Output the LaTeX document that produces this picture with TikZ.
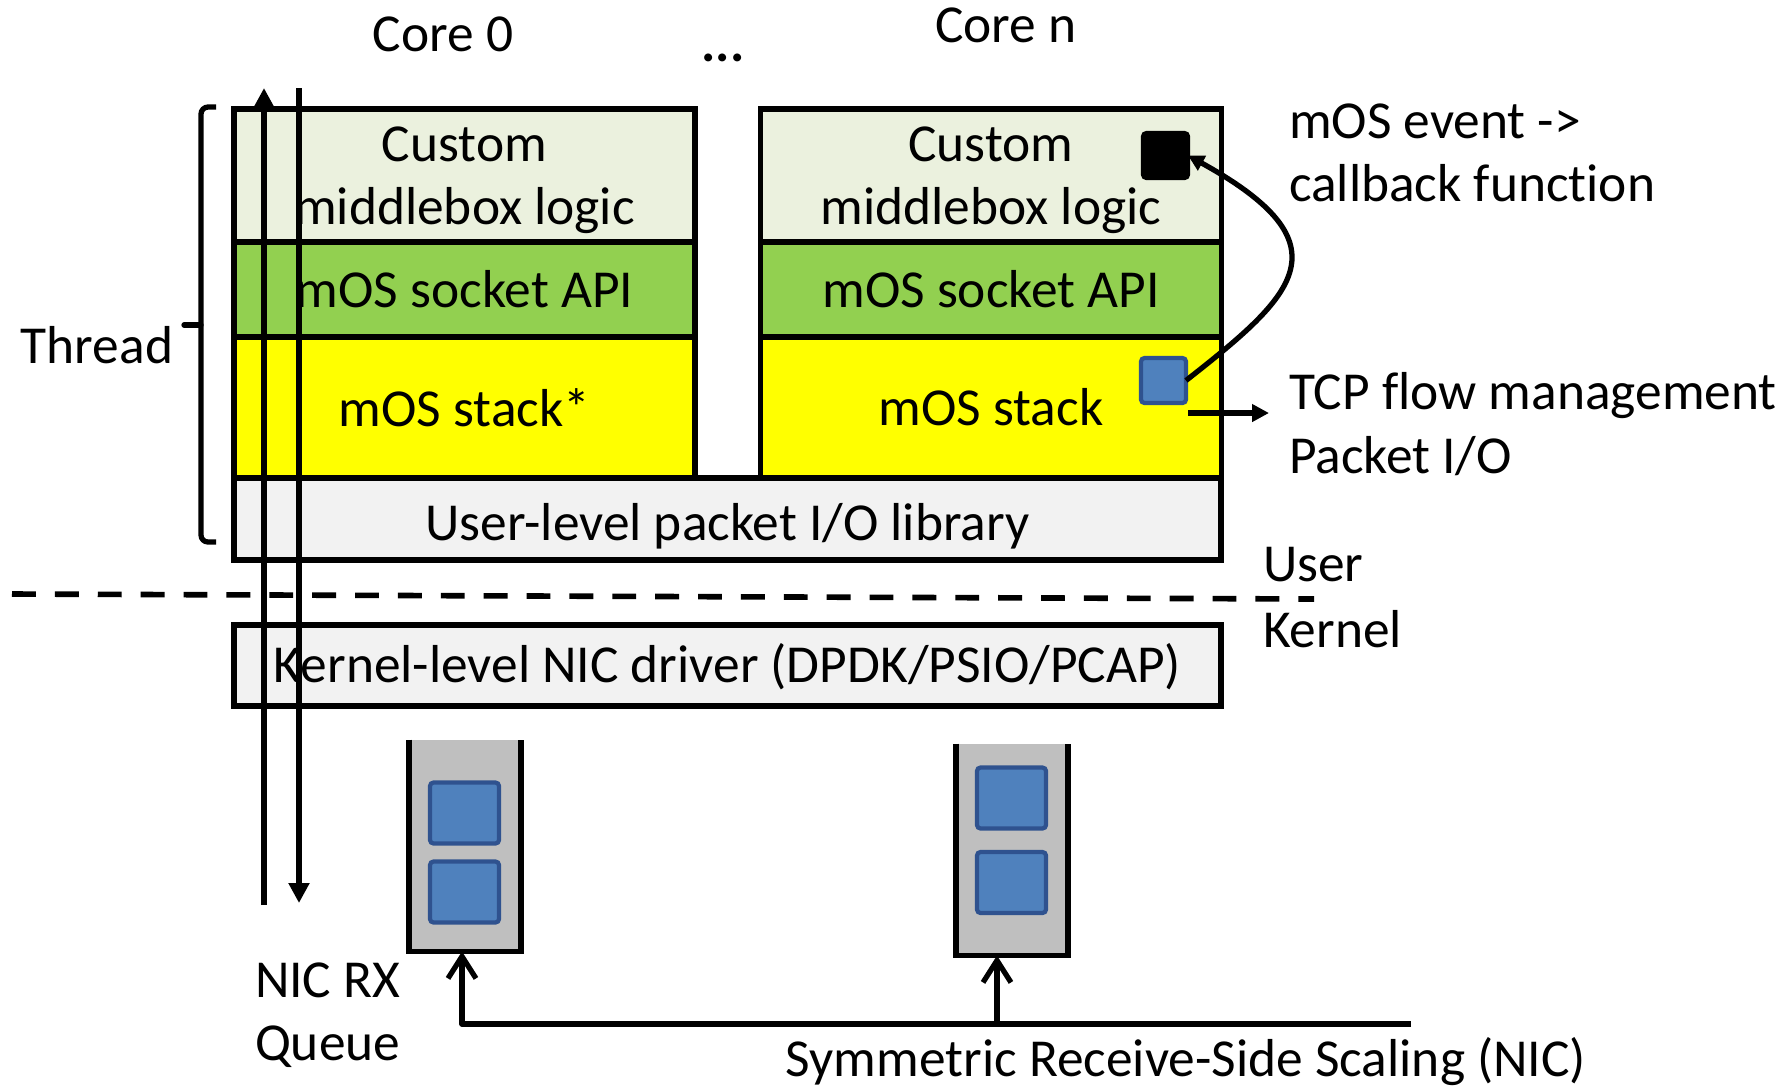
\documentclass[tikz,border=0pt]{standalone}
\usepackage{fontspec}
\setmainfont{Carlito}[Ligatures=NoCommon]
\usetikzlibrary{arrows.meta, positioning}

\definecolor{logicbg}{HTML}{EBF1DE}
\definecolor{apibg}{HTML}{92D050}
\definecolor{stackbg}{HTML}{FFFF00}
\definecolor{iobg}{HTML}{F2F2F2}
\definecolor{queuebg}{HTML}{BFBFBF}
\definecolor{pktfill}{HTML}{4F81BD}
\definecolor{pktdraw}{HTML}{2F528F}

\begin{document}
\begin{tikzpicture}[
        every node/.style={inner sep=0pt, outer sep=0pt, font=\fontsize{15.2pt}{18pt}\selectfont},
        layer/.style={draw, line width=1.5pt, minimum width=4.61cm, align=center},
        wide/.style={draw, line width=1.5pt, fill=iobg, minimum width=9.87cm, minimum height=0.81cm},
        note/.style={align=left, anchor=west},
        queue/.style={fill=queuebg, minimum width=1.12cm, minimum height=2.12cm},
        pkt/.style={fill=pktfill, draw=pktdraw, line width=1.2pt, rounded corners=1pt, minimum width=0.69cm, minimum height=0.61cm},
        marker/.style={line width=1.2pt, rounded corners=1pt, minimum size=0.45cm},
        pipe/.style={line width=1.9pt, -{Triangle[length=2mm, width=2mm]}},
        flow/.style={line width=1.5pt, -{Triangle[length=1.7mm, width=1.7mm]}},
        rss/.style={line width=1.5pt, line join=round, -{Straight Barb[length=2.2mm, width=2.8mm]}}
    ]
    \useasboundingbox (0,0) rectangle (17.92,-10.90);

    % Core 0
    \node (core0) at (4.43,-0.34) {Core 0};
    \node[layer, fill=logicbg, minimum height=1.33cm, text depth=-0.04cm] (logic0) at (4.645,-1.755) {Custom\\middlebox logic};
    \node[layer, fill=apibg, minimum height=0.95cm, below=0cm of logic0] (api0) {mOS socket API};
    \node[layer, fill=stackbg, minimum height=1.41cm, below=0cm of api0] (stack0) {mOS stack*};

    \node[anchor=base] (dots) at (7.23,-0.615) {\textbf{...}};

    % Core n
    \node (coren) at (10.06,-0.25) {Core n};
    \node[layer, fill=logicbg, minimum height=1.33cm, text depth=-0.04cm] (logicn) at (9.91,-1.755) {Custom\\middlebox logic};
    \node[layer, fill=apibg, minimum height=0.95cm, below=0cm of logicn] (apin) {mOS socket API};
    \node[layer, fill=stackbg, minimum height=1.41cm, below=0cm of apin] (stackn) {mOS stack};
    \node[marker, fill=black, draw=black] (cb) at (11.655,-1.555) {};
    \node[marker, fill=pktfill, draw=pktdraw] (evt) at (11.635,-3.805) {};

    % shared layers
    \node[wide, minimum height=0.82cm, text height=0.43cm, text depth=0cm, anchor=north west] (iolib) at (stack0.south west) {User-level packet I/O library};
    \node[wide, text depth=0.05cm] (driver) at (7.275,-6.655) {Kernel-level NIC driver (DPDK/PSIO/PCAP)};

    % thread brace
    \node (thread) at (0.97,-3.45) {Thread};
    \draw[line width=1.5pt, rounded corners=2pt] (2.16,-1.07) -- (2.01,-1.07) -- (2.01,-5.42) -- (2.16,-5.42);
    \draw[line width=1.5pt, line cap=round] (2.01,-3.25) -- (1.84,-3.25);

    % user / kernel split
    \coordinate (splitL) at (0.12,-5.94);
    \coordinate (splitR) at (13.14,-5.99);
    \draw[line width=1.6pt, dash pattern=on 6.8pt off 5.4pt] (splitL) -- (splitR);
    \node[note] (user) at (12.63,-5.65) {User};
    \node[note] (kernel) at (12.63,-6.29) {Kernel};

    % packet path of core 0
    \coordinate (rxbot) at (2.64,-9.05);
    \coordinate (rxtop) at (2.64,-0.88);
    \coordinate (txtop) at (2.99,-0.88);
    \coordinate (txbot) at (2.99,-9.03);
    \draw[pipe] (rxbot) -- (rxtop);
    \draw[pipe] (txtop) -- (txbot);

    % events
    \node[note] (event) at (12.89,-1.53) {mOS event ->\\callback function};
    \node[note] (tcp) at (12.89,-4.24) {TCP flow management\\Packet I/O};
    \draw[flow, -{Triangle[length=1.6mm, width=1.6mm]}] (evt.east) .. controls (12.95,-2.95) and (13.5,-2.45) .. (cb.east);
    \coordinate (flowout) at (11.88,-4.13);
    \draw[flow, shorten >=2mm] (flowout) -- (flowout -| tcp.west);

    % NIC RX queues
    \node[queue] (rxq0) at (4.65,-8.455) {};
    \draw[line width=1.5pt] (rxq0.north west) -- (rxq0.south west) -- (rxq0.south east) -- (rxq0.north east);
    \node[pkt] (p01) at (4.645,-8.13) {};
    \node[pkt] (p02) at (4.645,-8.92) {};

    \node[queue] (rxqn) at (10.12,-8.495) {};
    \draw[line width=1.5pt] (rxqn.north west) -- (rxqn.south west) -- (rxqn.south east) -- (rxqn.north east);
    \node[pkt] (pn1) at (10.115,-7.98) {};
    \node[pkt] (pn2) at (10.115,-8.825) {};

    \node[note] (rxlabel) at (2.55,-10.15) {NIC RX\\Queue};

    % RSS
    \coordinate (rssend) at (14.11,-10.24);
    \coordinate (tap0) at (4.62,-10.24);
    \coordinate (tapn) at (9.97,-10.24);
    \draw[rss] (rssend) -- (tap0) -- (tap0 |- rxq0.south);
    \draw[rss] (tapn) -- (tapn |- rxqn.south);
    \node (rsslabel) at (11.86,-10.62) {Symmetric Receive-Side Scaling (NIC)};

\end{tikzpicture}
\end{document}
